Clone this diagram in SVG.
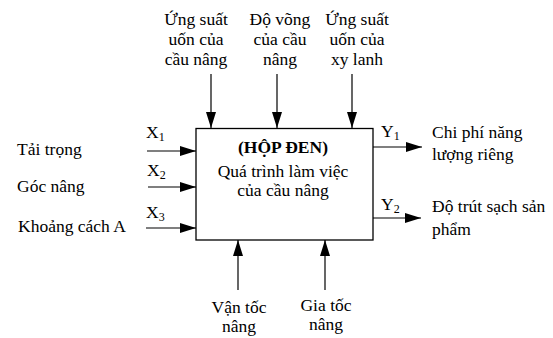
<svg xmlns="http://www.w3.org/2000/svg" width="553" height="338" viewBox="0 0 553 338">
<style>
text{font-family:"Liberation Serif","Times New Roman",serif;font-size:17.5px;fill:#000}
.c{text-anchor:middle}
.b{font-weight:bold}
.s{font-size:12px}
.ln{stroke:#000;stroke-width:1.2;fill:none;marker-end:url(#ah)}
</style>
<defs>
<marker id="ah" markerUnits="userSpaceOnUse" markerWidth="18" markerHeight="12" refX="16" refY="5" orient="auto">
<path d="M0,0 L16,5 L0,10 Z" fill="#000"/>
</marker>
</defs>
<rect width="553" height="338" fill="#fff"/>
<g id="box">
<rect x="196" y="128.5" width="177" height="111.5" fill="#fff" stroke="#000" stroke-width="1.3"/>
<text class="c b" x="283" y="153">(HỘP ĐEN)</text>
<text class="c" x="283" y="177">Quá trình làm việc</text>
<text class="c" x="283" y="196">của cầu nâng</text>
</g>
<g id="connectors">
<line class="ln" x1="211" y1="74" x2="211" y2="128"/>
<line class="ln" x1="277" y1="74" x2="277" y2="128"/>
<line class="ln" x1="352" y1="74" x2="352" y2="128"/>
<line class="ln" x1="147" y1="151" x2="196" y2="151"/>
<line class="ln" x1="148" y1="187" x2="196" y2="187"/>
<line class="ln" x1="146" y1="228" x2="196" y2="228"/>
<line class="ln" x1="373" y1="147" x2="422" y2="147"/>
<line class="ln" x1="373" y1="218" x2="421" y2="218"/>
<line class="ln" x1="238" y1="290" x2="238" y2="240"/>
<line class="ln" x1="325" y1="290" x2="325" y2="240"/>
</g>
<g id="in-top1"><text class="c" x="196" y="25">Ứng suất</text><text class="c" x="196" y="45">uốn của</text><text class="c" x="196" y="65">cầu nâng</text></g>
<g id="in-top2"><text class="c" x="280" y="25">Độ võng</text><text class="c" x="280" y="45">của cầu</text><text class="c" x="280" y="65">nâng</text></g>
<g id="in-top3"><text class="c" x="357" y="25">Ứng suất</text><text class="c" x="357" y="45">uốn của</text><text class="c" x="357" y="65">xy lanh</text></g>
<g id="x1"><text x="17" y="155">Tải trọng</text><text x="146" y="138">X<tspan class="s" dy="3">1</tspan></text></g>
<g id="x2"><text x="17" y="192">Góc nâng</text><text x="147" y="176">X<tspan class="s" dy="3">2</tspan></text></g>
<g id="x3"><text x="18" y="232">Khoảng cách A</text><text x="146" y="218">X<tspan class="s" dy="3">3</tspan></text></g>
<g id="y1"><text x="381" y="137">Y<tspan class="s" dy="3">1</tspan></text><text x="432" y="138">Chi phí năng</text><text x="432" y="160">lượng riêng</text></g>
<g id="y2"><text x="381" y="210">Y<tspan class="s" dy="3">2</tspan></text><text x="432" y="212">Độ trút sạch sản</text><text x="432" y="235">phẩm</text></g>
<g id="in-bot1"><text class="c" x="239" y="313">Vận tốc</text><text class="c" x="239" y="332">nâng</text></g>
<g id="in-bot2"><text class="c" x="326" y="311">Gia tốc</text><text class="c" x="326" y="330">nâng</text></g>
</svg>
